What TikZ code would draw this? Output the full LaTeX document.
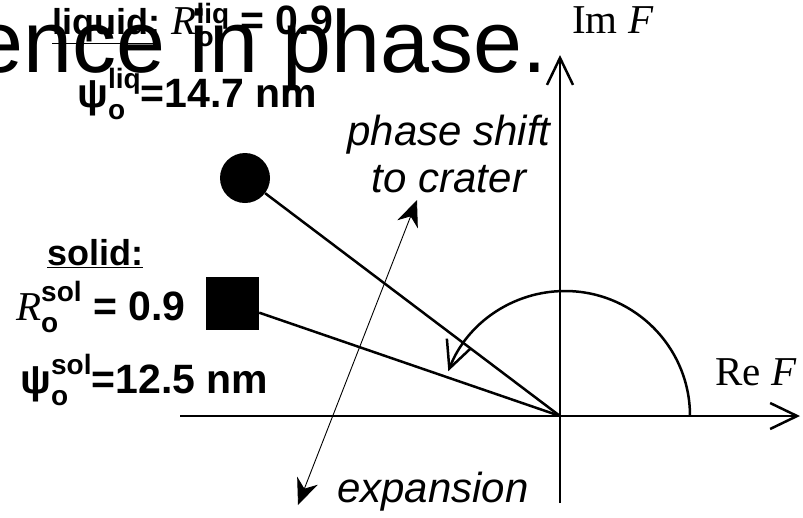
\documentclass[tikz,border=0pt]{standalone}
\usepackage{fontspec}
\setmainfont{Liberation Sans}
\newfontfamily\serifface{Liberation Serif}
\usetikzlibrary{arrows.meta}

% subscript o with a phase superscript
\newcommand{\phidx}[3][0.45em]{\makebox[0pt][l]{\raisebox{-0.3em}{\fontsize{28}{28}\selectfont #2}}\raisebox{#1}{\fontsize{28}{28}\selectfont #3}}
% phase name, underlined
\newcommand{\phname}[1]{{\fontsize{36}{40}\selectfont\underline{#1}}}

\begin{document}
\begin{tikzpicture}[
		x=1pt, y=-1pt,
		>={Straight Barb[length=27pt, width=26pt]},
		% Axes and phase vectors
		axisline/.style={line width=2.5pt, ->},
		vecline/.style={line width=2.5pt},
		shiftline/.style={line width=0.9pt, {Stealth[length=26pt, width=22pt]}-{Stealth[length=26pt, width=22pt]}},
		% Markers for the two phases
		liqmark/.style={circle, fill=black, minimum size=50pt, inner sep=0pt},
		solmark/.style={rectangle, fill=black, minimum size=53pt, inner sep=0pt},
		% Texts
		datalab/.style={font=\fontsize{41}{45}\selectfont\bfseries, inner sep=0pt, anchor=base west},
		notelab/.style={font=\fontsize{42}{47}\selectfont\itshape, inner sep=0pt, align=center},
		axislab/.style={font=\serifface\fontsize{41}{45}\selectfont, inner sep=0pt, anchor=base west}
	]

	\useasboundingbox (0,0) rectangle (803,517);

	% ==========================================
	% 1. TITLE (cut off at the left edge)
	% ==========================================
	\node[font=\fontsize{88}{92}\selectfont, inner sep=0pt, anchor=base east] (title) at (547,72) {ence in phase.};

	% ==========================================
	% 2. AXES
	% ==========================================
	\coordinate (O) at (560,416);
	\coordinate (xstart) at (180,416);
	\coordinate (xend) at (800,416);
	\coordinate (ystart) at (560,503);
	\coordinate (yend) at (560,55);

	\draw[axisline] (xstart) -- (xend);
	\draw[axisline] (ystart) -- (yend);

	\node[axislab] (imlab) at (572,33) {Im \textit{F}};
	\node[axislab] (relab) at (715,385) {Re \textit{F}};

	% ==========================================
	% 3. PHASE VECTORS
	% ==========================================
	\node[liqmark] (liq) at (245,178) {};
	\node[solmark] (sol) at (232.5,303.5) {};

	\draw[vecline] (liq) -- (O);
	\draw[vecline] (sol) -- (O);

	% Rotation from the real axis
	\coordinate (arcstart) at (690,416);
	\draw[axisline] (arcstart) arc[start angle=0, end angle=159, radius=125pt];

	% ==========================================
	% 4. LABELS
	% ==========================================
	\node[datalab] (liqlab) at (52,34) {\phname{liquid:} {\serifface\mdseries\itshape R}\phidx[0.25em]{o}{liq} = 0.9};
	\node[datalab] (liqpsi) at (77,107) {ψ\phidx{o}{liq}=14.7 nm};

	\node[datalab] (sollab) at (47,265) {\phname{solid:}};
	\node[datalab] (solR) at (16,320) {{\serifface\mdseries\itshape R}\phidx{o}{sol} = 0.9};
	\node[datalab] (solpsi) at (20,393) {ψ\phidx{o}{sol}=12.5 nm};

	% Shift directions
	\coordinate (crater) at (417,200);
	\coordinate (expand) at (298,505);
	\draw[shiftline] (expand) -- (crater);

	\node[notelab, anchor=base] (shiftlab) at (449,192) {phase shift\\to crater};
	\node[notelab, anchor=base west] (explab) at (337,502) {expansion};

\end{tikzpicture}
\end{document}
